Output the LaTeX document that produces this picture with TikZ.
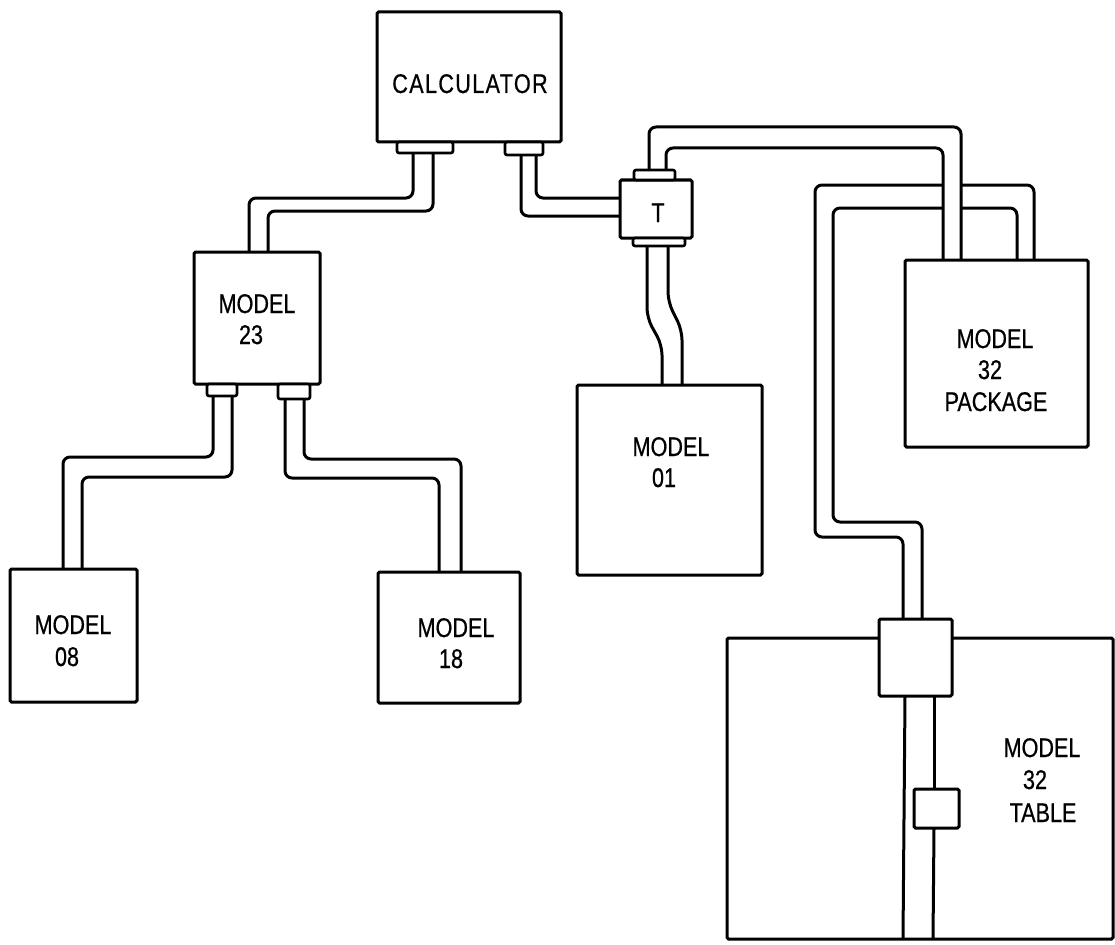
\documentclass[tikz,border=0pt]{standalone}
\usepackage{fontspec}
\setmainfont{Liberation Sans}[FakeStretch=0.8, FakeBold=0.6]
\begin{document}
\begin{tikzpicture}[x=1pt,y=-1pt]
\tikzset{
  wire/.style={line width=3pt, rounded corners=7pt, line cap=butt},
  box/.style={draw, fill=white, line width=3pt, inner sep=0pt, rounded corners=1.5pt},
  plug/.style={draw, fill=white, line width=2.6pt, inner sep=0pt, rounded corners=2pt},
  lbl/.style={anchor=base, inner sep=0pt, font=\fontsize{27}{31}\selectfont},
}
\useasboundingbox[fill=white] (0,0) rectangle (1115,944);
% ---------------- cables ----------------
% calculator -> model 23
\draw[wire] (413,153) -- (413,198) -- (249,198) -- (249,252);
\draw[wire] (433,153) -- (433,211) -- (268,211) -- (268,252);
% calculator -> T
\draw[wire] (521,155) -- (521,216) -- (620,216);
\draw[wire] (536,155) -- (536,198) -- (620,198);
% table -> package (passes under the T cable)
\draw[wire] (903,618) -- (903,537) -- (815,537) -- (815,185) -- (943,185);
\draw[wire] (961,185) -- (1034,185) -- (1034,260);
\draw[wire] (922,618) -- (922,522) -- (833,522) -- (833,208) -- (943,208);
\draw[wire] (961,208) -- (1017,208) -- (1017,260);
% T -> package
\draw[wire] (649,170) -- (649,127) -- (961,127) -- (961,260);
\draw[wire] (666,170) -- (666,148) -- (943,148) -- (943,260);
% T -> model 01
\draw[wire, rounded corners=10pt] (647,246) -- (647,318) -- (662,345) -- (662,385);
\draw[wire, rounded corners=10pt] (668,246) -- (668,302) -- (682,330) -- (682,385);
% model 23 -> model 08
\draw[wire] (213,396) -- (213,457) -- (63,457) -- (63,569);
\draw[wire] (232,396) -- (232,477) -- (82,477) -- (82,569);
% model 23 -> model 18
\draw[wire] (285,399) -- (285,478) -- (439,478) -- (439,572);
\draw[wire] (304,399) -- (304,459) -- (461,459) -- (461,572);
% ---------------- boxes ----------------
\node[box, minimum width=184pt, minimum height=130pt] (calc) at (469,77) {};
\node[box, minimum width=72pt, minimum height=58pt] (tee) at (656,209) {};
\node[box, minimum width=126pt, minimum height=132pt] (m23) at (257,318) {};
\node[box, minimum width=127pt, minimum height=133pt] (m08) at (73.5,635.5) {};
\node[box, minimum width=142pt, minimum height=131pt] (m18) at (449,637.5) {};
\node[box, minimum width=185pt, minimum height=190pt] (m01) at (669.5,480) {};
\node[box, minimum width=183pt, minimum height=187pt] (pkg) at (996.5,353.5) {};
\node[box, minimum width=386pt, minimum height=301pt] (table) at (920,788.5) {};
\node[box, minimum width=73pt, minimum height=77pt] (tconn) at (915.5,657.5) {};
% plugs
\node[plug, minimum width=56pt, minimum height=11pt] (pcl) at (425,147.5) {};
\node[plug, minimum width=38pt, minimum height=13pt] (pcr) at (524,148.5) {};
\node[plug, minimum width=41pt, minimum height=10pt] (ptt) at (654.5,175) {};
\node[plug, minimum width=52pt, minimum height=8pt] (ptb) at (659,242) {};
\node[plug, minimum width=30pt, minimum height=12pt] (pml) at (222,390) {};
\node[plug, minimum width=32pt, minimum height=15pt] (pmr) at (294,391.5) {};
% cable inside the table
\draw[wire] (905,696) -- (903,939);
\draw[wire] (934,696) -- (934,789);
\draw[wire] (934,828) -- (933,939);
\node[box, minimum width=45pt, minimum height=39pt] (tsmall) at (936.5,808.5) {};
% ---------------- labels ----------------
\node[lbl] (tcalc) at (470,93) {\addfontfeature{LetterSpace=5}CALCULATOR};
\node[lbl] (ttee) at (658,222) {T};
\node[lbl] (t23a) at (257,313) {MODEL};
\node[lbl] (t23b) at (251,344) {23};
\node[lbl] (t08a) at (73,634) {MODEL};
\node[lbl] (t08b) at (67,666) {08};
\node[lbl] (t18a) at (456,637) {MODEL};
\node[lbl] (t18b) at (451,668) {18};
\node[lbl] (t01a) at (671,456) {MODEL};
\node[lbl] (t01b) at (664,487) {01};
\node[lbl] (tpa) at (995,348) {MODEL};
\node[lbl] (tpb) at (990,379) {32};
\node[lbl] (tpc) at (996,411) {PACKAGE};
\node[lbl] (tta) at (1042,757) {MODEL};
\node[lbl] (ttb) at (1035,789) {32};
\node[lbl] (ttc) at (1043,822) {TABLE};
\end{tikzpicture}
\end{document}
